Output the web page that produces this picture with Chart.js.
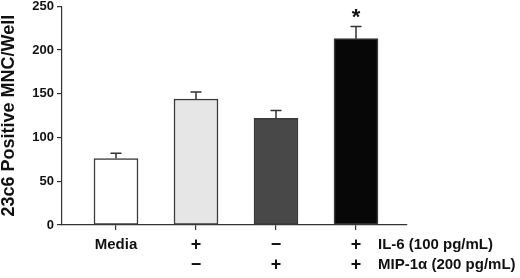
<!DOCTYPE html>
<html>
<head>
<meta charset="utf-8">
<script src="https://cdn.jsdelivr.net/npm/chart.js@4.4.1/dist/chart.umd.min.js"></script>
<style>
html,body{margin:0;padding:0;background:#fff;}
#wrap{width:520px;height:278px;}
</style>
</head>
<body>
<div id="wrap"><canvas id="c" width="520" height="278"></canvas></div>
<script>
const categories = ['Media', 'IL-6', 'MIP-1α', 'IL-6 + MIP-1α'];
const il6Row = ['Media', '+', '\u2212', '+'];
const mipRow = ['', '\u2212', '+', '+'];
const rowLabels = ['IL-6 (100 pg/mL)', 'MIP-1\u03b1 (200 pg/mL)'];
const values = [76, 144, 122, 213];
const errors = [6, 8, 9, 14];
const significant = [false, false, false, true];
const yTicks = [0, 50, 100, 150, 200, 250];
const barColors = ['#ffffff', '#e6e6e6', '#484848', '#070707'];

const FONT = "'Liberation Sans', Arial, Helvetica, sans-serif";

const extras = {
  id: 'extras',
  afterDatasetsDraw(chart) {
    const ctx = chart.ctx;
    const meta = chart.getDatasetMeta(0);
    const ys = chart.scales.y;
    ctx.save();
    ctx.strokeStyle = '#333';
    ctx.lineWidth = 1.5;
    meta.data.forEach((bar, i) => {
      const x = bar.x;
      const yTop = ys.getPixelForValue(values[i]);
      const yErr = ys.getPixelForValue(values[i] + errors[i]);
      ctx.beginPath();
      ctx.moveTo(x, yTop);
      ctx.lineTo(x, yErr);
      ctx.moveTo(x - 5.5, yErr);
      ctx.lineTo(x + 5.5, yErr);
      ctx.stroke();
      if (significant[i]) {
        ctx.fillStyle = '#111';
        ctx.font = 'bold 22px ' + FONT;
        ctx.textAlign = 'center';
        ctx.textBaseline = 'middle';
        ctx.fillText('*', x, yErr - 8);
      }
    });
    const xs = chart.scales.x;
    const lastX = xs.getPixelForValue(categories.length - 1);
    ctx.fillStyle = '#111';
    ctx.font = 'bold 15px ' + FONT;
    ctx.textAlign = 'left';
    ctx.textBaseline = 'middle';
    ctx.fillText(rowLabels[0], lastX + 22, 245);
    ctx.fillText(rowLabels[1], lastX + 22, 265);
    ctx.restore();
  }
};

new Chart(document.getElementById('c'), {
  type: 'bar',
  data: {
    datasets: [{
      data: values.map((v, i) => ({ x: i, y: v })),
      backgroundColor: barColors,
      borderColor: '#3a3a3a',
      borderWidth: 1.5,
      borderSkipped: false,
      barThickness: 44
    }]
  },
  options: {
    responsive: false,
    animation: false,
    devicePixelRatio: 1,
    layout: { padding: { top: 6, right: 113, left: 0, bottom: 0 } },
    plugins: { legend: { display: false }, tooltip: { enabled: false } },
    scales: {
      x: {
        type: 'linear',
        offset: false,
        min: -0.675,
        max: 3.6375,
        grid: { display: true, offset: false, drawOnChartArea: false, drawTicks: true, tickLength: 5, color: '#333', lineWidth: 1.2 },
        border: { display: true, color: '#333', width: 1.2 },
        afterBuildTicks(scale) { scale.ticks = categories.map((c, i) => ({ value: i })); },
        afterFit(scale) { scale.height = 53; },
        ticks: {
          autoSkip: false,
          maxRotation: 0,
          padding: 5,
          color: '#111',
          font: (ctx) => ({ family: FONT, size: ctx.index === 0 ? 15 : 18, weight: 'bold', lineHeight: '20px' }),
          callback(value) { const i = Math.round(value); return [il6Row[i], mipRow[i]]; }
        }
      },
      y: {
        min: 0,
        max: 250,
        grid: { display: true, drawOnChartArea: false, drawTicks: true, tickLength: 5, color: '#333', lineWidth: 1.2 },
        border: { display: true, color: '#333', width: 1.2 },
        afterBuildTicks(scale) { scale.ticks = yTicks.map(v => ({ value: v })); },
        afterFit(scale) { scale.width = 62; },
        ticks: {
          padding: 3,
          color: '#111',
          font: { family: FONT, size: 13, weight: 'bold', lineHeight: 0.5 }
        },
        title: {
          display: true,
          text: '23c6 Positive MNC/Well',
          color: '#111',
          padding: { top: 0, bottom: 0 },
          font: { family: FONT, size: 18, weight: 'bold', lineHeight: 1 }
        }
      }
    }
  },
  plugins: [extras]
});
</script>
</body>
</html>
